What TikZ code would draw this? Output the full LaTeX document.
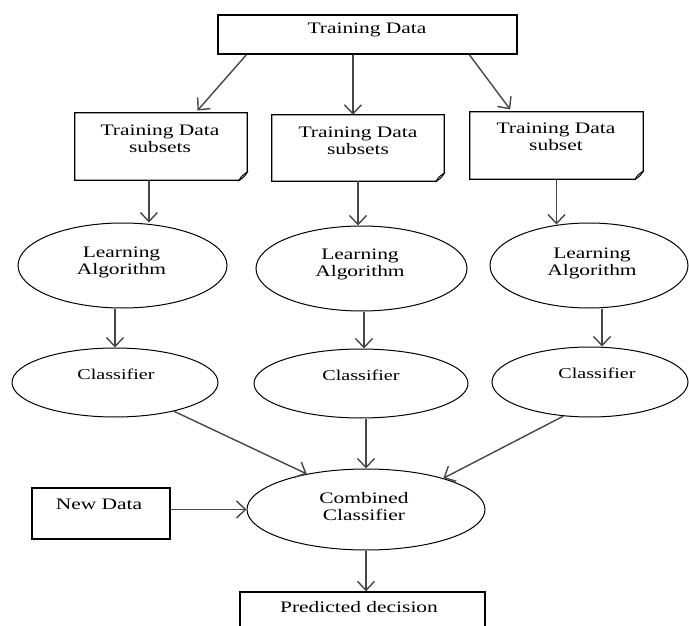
\documentclass[tikz,border=0pt]{standalone}
\usepackage{fontspec}
\setmainfont{Liberation Serif}[FakeStretch=1.34]
\usetikzlibrary{arrows.meta,calc,shapes.geometric}
\tikzset{
  lbl/.style={inner sep=0pt, align=center, font=\fontsize{16}{17}\selectfont},
  clbl/.style={inner sep=0pt, font=\fontsize{15}{17}\selectfont},
  plainbox/.style={draw=black, line width=1.3pt, inner sep=0pt},
  docbox/.style={inner sep=0pt},
  oval/.style={draw=black, line width=1pt, ellipse, inner sep=0pt},
  arr/.style={draw=black!72, line width=1.4pt, -{Straight Barb[length=9pt,width=17pt]}},
  docline/.style={draw=black, line width=1.3pt, line join=miter},
  foldfill/.style={draw=black, line width=0.8pt, fill=black!35},
}
\newcommand{\docoutline}[1]{%
  \draw[docline] (#1.north west) -- (#1.north east) -- ([yshift=8pt]#1.south east)
    -- ([xshift=-8pt]#1.south east) -- (#1.south west) -- cycle;
  \draw[foldfill] ([xshift=-8pt]#1.south east) .. controls ([xshift=-6pt,yshift=4pt]#1.south east)
    .. ([yshift=8pt]#1.south east) .. controls ([xshift=-3pt,yshift=3pt]#1.south east) .. cycle;
}
\begin{document}
\begin{tikzpicture}[x=1pt,y=-1pt]
\useasboundingbox (0,0) rectangle (689,626);
\clip (0,0) rectangle (689,626);
\fill[white] (0,0) rectangle (689,626);

% top box
\node[plainbox, minimum width=299pt, minimum height=39pt] (td) at (367.5,34.5) {};
\node[lbl, anchor=base] (tdt) at (367,34) {Training Data};

% subset boxes
\node[docbox, minimum width=172pt, minimum height=67pt] (s1) at (161,146.5) {};
\node[docbox, minimum width=172pt, minimum height=66pt] (s2) at (358,148) {};
\node[docbox, minimum width=173pt, minimum height=67pt] (s3) at (556.5,145.5) {};
\docoutline{s1}
\docoutline{s2}
\docoutline{s3}
\node[lbl, anchor=north] (s1t) at (160,124.5) {Training Data\\subsets};
\node[lbl, anchor=north] (s2t) at (358,127) {Training Data\\subsets};
\node[lbl, anchor=north] (s3t) at (556,123) {Training Data\\subset};

% learning algorithm ellipses
\node[oval, minimum width=209pt, minimum height=85pt] (l1) at (122.5,265.5) {};
\node[oval, minimum width=211pt, minimum height=85pt] (l2) at (361.5,268.5) {};
\node[oval, minimum width=198pt, minimum height=85pt] (l3) at (589,265.5) {};
\node[lbl, anchor=north] (l1t) at (121.5,246.5) {Learning\\Algorithm};
\node[lbl, anchor=north] (l2t) at (360,249) {Learning\\Algorithm};
\node[lbl, anchor=north] (l3t) at (592,248) {Learning\\Algorithm};

% classifier ellipses
\node[oval, minimum width=206pt, minimum height=69pt] (c1) at (115,382.5) {};
\node[oval, minimum width=214pt, minimum height=69pt] (c2) at (361,383.5) {};
\node[oval, minimum width=196pt, minimum height=70pt] (c3) at (590,382) {};
\node[clbl, anchor=base] (c1t) at (116,379) {Classifier};
\node[clbl, anchor=base] (c2t) at (361,380) {Classifier};
\node[clbl, anchor=base] (c3t) at (597,378) {Classifier};

% combined
\node[oval, minimum width=238pt, minimum height=81pt] (cc) at (366,509.5) {};
\node[lbl, anchor=north] (cct) at (364,492.5) {Combined\\Classifier};

% new data
\node[plainbox, minimum width=138pt, minimum height=51pt] (nd) at (101,513.5) {};
\node[lbl, anchor=base] (ndt) at (99,509) {New Data};

% predicted decision
\node[plainbox, minimum width=245pt, minimum height=48pt] (pd) at (362.5,616) {};
\node[lbl, anchor=base] (pdt) at (359,612.5) {Predicted decision};

% arrows from training data
\coordinate (tda) at ($(td.south west)!0.097!(td.south east)$);
\coordinate (tdb) at ($(td.south west)!0.4515!(td.south east)$);
\coordinate (tdc) at ($(td.south west)!0.839!(td.south east)$);
\coordinate (s1in) at ($(s1.north west)!0.70!(s1.north east)$);
\coordinate (s3in) at ($(s3.north west)!0.243!(s3.north east)$);
\draw[arr, shorten >=3pt] (tda) -- (s1in);
\draw[arr] (tdb) -- (tdb |- s2.north);
\draw[arr, shorten >=3pt] (tdc) -- (s3in);

% subsets to learning
\coordinate (s1o) at ($(s1.south west)!0.43!(s1.south east)$);
\draw[arr] (s1o) -- (s1o |- l1.north);
\draw[arr] (s2.south) -- (s2.south |- l2.north);
\draw[arr, shorten >=-2pt] (s3.south) -- (s3.south |- l3.north);

% learning to classifier
\draw[arr] (c1.north |- l1.south) -- (c1.north);
\coordinate (l2o) at ($(l2.south)+(2.5,0)$);
\draw[arr] (l2o) -- (l2o |- c2.north);
\coordinate (l3o) at ($(l3.south)+(13,0)$);
\draw[arr] (l3o) -- (l3o |- c3.north);

% classifiers to combined
\draw[arr] (c1.-26.6) -- (cc.149);
\draw[arr] (cc.north |- c2.south) -- (cc.north);
\draw[arr] (c3.-128.5) -- (cc.22.5);

% new data to combined, combined to decision
\draw[arr] (nd.east |- cc.west) -- (cc.west);
\draw[arr] (cc.south) -- (cc.south |- pd.north);
\end{tikzpicture}
\end{document}
